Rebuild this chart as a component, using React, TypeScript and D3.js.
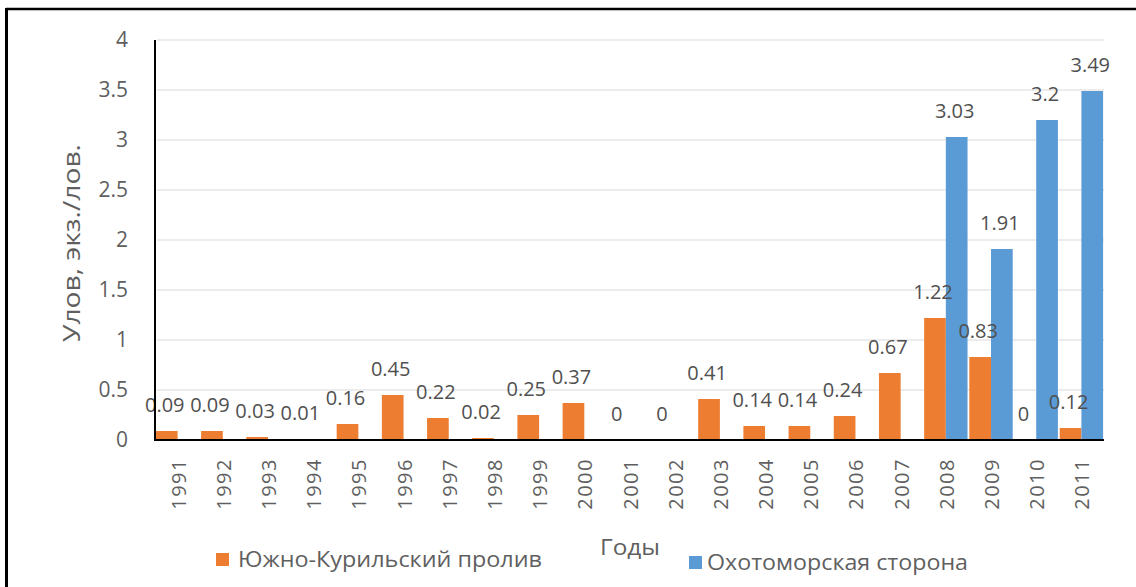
import React from "react";
import * as d3 from "d3";

const years = ["1991","1992","1993","1994","1995","1996","1997","1998","1999","2000","2001","2002","2003","2004","2005","2006","2007","2008","2009","2010","2011"];
const kurilValues: number[] = [0.09,0.09,0.03,0.01,0.16,0.45,0.22,0.02,0.25,0.37,0,0,0.41,0.14,0.14,0.24,0.67,1.22,0.83,0,0.12];
const okhotskValues: (number | null)[] = [null,null,null,null,null,null,null,null,null,null,null,null,null,null,null,null,null,3.03,1.91,3.2,3.49];
const yTicks = [0,0.5,1,1.5,2,2.5,3,3.5,4];
const seriesNames = ["Южно-Курильский пролив", "Охотоморская сторона"];
const colors = ["#ED7D31", "#5B9BD5"];

const W = 1136, H = 587;
const FONT = "'Open Sans', sans-serif";
const TXT = "#5f5f5f";

export default function App() {
  const x = d3.scaleBand<string>().domain(years).range([155, 1104]).paddingInner(0).paddingOuter(0);
  const y = d3.scaleLinear().domain([0, 4]).range([440, 40]);
  const bw = x.bandwidth();
  const groupW = bw * 0.96;
  const barW = groupW / 2;
  const sub = d3.scaleBand<number>().domain([0, 1]).range([0, groupW]);
  const fmt = (v: number) => String(v);

  return (
    <svg width={W} height={H} style={{ position: "absolute", left: 0, top: 0, background: "#fff" }} fontFamily={FONT}>
      <rect x={0} y={0} width={W} height={H} fill="#fff" />
      <line x1={6} x2={W} y1={9} y2={9} stroke="#000" strokeWidth={2.5} />
      <line x1={6.5} x2={6.5} y1={8} y2={H} stroke="#000" strokeWidth={3} />
      {yTicks.filter(t => t > 0).map(t => (
        <line key={"g" + t} x1={157} x2={1104} y1={y(t)} y2={y(t)} stroke="#d9d9d9" strokeWidth={1.2} />
      ))}
      {yTicks.map(t => (
        <text key={"yt" + t} x={128} y={y(t)} dy="0.35em" textAnchor="end" fontSize={21} fill={TXT}>{fmt(t)}</text>
      ))}
      {years.map((yr, i) => {
        const x0 = (x(yr) as number) + (bw - groupW) / 2;
        const k = kurilValues[i];
        const o = okhotskValues[i];
        return (
          <g key={"b" + yr}>
            <rect x={x0 + (sub(0) as number)} y={y(k)} width={barW} height={440 - y(k)} fill={colors[0]} />
            {o !== null && (
              <rect x={x0 + (sub(1) as number)} y={y(o)} width={barW} height={440 - y(o)} fill={colors[1]} />
            )}
          </g>
        );
      })}
      {years.map((yr, i) => {
        const x0 = (x(yr) as number) + (bw - groupW) / 2;
        const k = kurilValues[i];
        const o = okhotskValues[i];
        return (
          <g key={"l" + yr}>
            <text x={x0 + (sub(0) as number) + barW / 2 - 2} y={y(k) - 19} textAnchor="middle" fontSize={20} fill="#505050">{fmt(k)}</text>
            {o !== null && (
              <text x={x0 + (sub(1) as number) + barW / 2 - 2} y={y(o) - 19} textAnchor="middle" fontSize={20} fill="#505050">{fmt(o)}</text>
            )}
          </g>
        );
      })}
      <line x1={155} x2={155} y1={40} y2={441} stroke="#000" strokeWidth={2} />
      <line x1={154} x2={1104} y1={440} y2={440} stroke="#000" strokeWidth={2} />
      {years.map(yr => {
        const cx = (x(yr) as number) + bw / 2 + 1;
        return (
          <text key={"xt" + yr} transform={`translate(${cx},${458}) rotate(-90)`} dy="0.35em" textAnchor="end" fontSize={20} letterSpacing={1.5} fill={TXT}>{yr}</text>
        );
      })}
      <text transform="translate(72,243) rotate(-90)" dy="0.35em" textAnchor="middle" fontSize={23} textLength={198} lengthAdjust="spacingAndGlyphs" fill={TXT}>Улов, экз./лов.</text>
      <text x={630} y={555} textAnchor="middle" fontSize={22} textLength={60} lengthAdjust="spacingAndGlyphs" fill={TXT}>Годы</text>
      <rect x={216} y={553} width={13} height={13} fill={colors[0]} />
      <text x={238} y={567} fontSize={21} textLength={304} lengthAdjust="spacingAndGlyphs" fill={TXT}>{seriesNames[0]}</text>
      <rect x={689} y={556} width={13} height={13} fill={colors[1]} />
      <text x={707} y={570} fontSize={21} textLength={261} lengthAdjust="spacingAndGlyphs" fill={TXT}>{seriesNames[1]}</text>
    </svg>
  );
}
